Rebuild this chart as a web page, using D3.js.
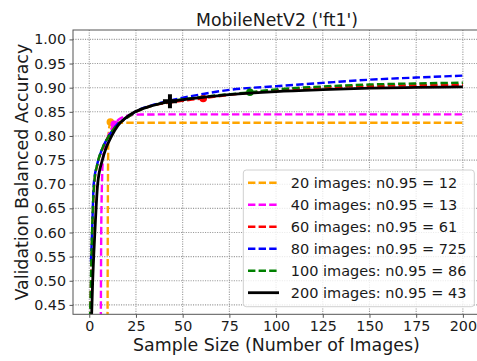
<!DOCTYPE html>
<html>
<head>
<meta charset="utf-8">
<script src="https://cdn.jsdelivr.net/npm/d3@7"></script>
<style>
  html, body { margin: 0; padding: 0; background: #fff; }
  svg { display: block; font-family: "DejaVu Sans", sans-serif; }
</style>
</head>
<body>
<svg id="chart" width="477" height="361"></svg>
<script>
// Learning curves: validation balanced accuracy vs. sample size, one fitted curve per training-set size.
const x20 = [9.8, 10.0, 10.3, 10.8, 11.5, 13, 20, 200];
const y20 = [0.42, 0.70, 0.80, 0.82, 0.826, 0.8273, 0.8273, 0.8273];

const x40 = [6.2, 6.4, 6.8, 7.2, 8.0, 10.2, 13.4, 17, 22, 28, 40, 200];
const y40 = [0.42, 0.60, 0.70, 0.747, 0.771, 0.80, 0.824, 0.837, 0.843, 0.8445, 0.8446, 0.8446];

const x60 = [0.55, 1.0, 1.6, 2.7, 4.3, 6.7, 10.5, 15, 20, 25, 33, 43, 61, 75, 100, 125, 150, 175, 200];
const y60 = [0.42, 0.50, 0.60, 0.70, 0.74, 0.77, 0.80, 0.823, 0.837, 0.85, 0.862, 0.869, 0.878, 0.885, 0.8945, 0.9005, 0.9035, 0.905, 0.906];

const x80 = [0.9, 1.5, 2.4, 4.2, 6.6, 10.5, 15, 20, 25, 33, 43, 61, 75, 100, 125, 150, 175, 200];
const y80 = [0.54, 0.60, 0.70, 0.74, 0.77, 0.80, 0.824, 0.838, 0.851, 0.863, 0.873, 0.887, 0.8955, 0.903, 0.910, 0.9165, 0.921, 0.925];

const x100 = [0.4, 0.9, 1.5, 2.6, 4.2, 6.6, 10.5, 15, 20, 25, 33, 43, 61, 86, 100, 125, 150, 175, 200];
const y100 = [0.42, 0.50, 0.60, 0.70, 0.74, 0.77, 0.80, 0.823, 0.837, 0.85, 0.862, 0.8715, 0.881, 0.8905, 0.8965, 0.9025, 0.9065, 0.9088, 0.9103];

const x200 = [1.2, 1.8, 3.0, 4.5, 7.0, 9.0, 12, 15.5, 19, 24.5, 33, 43, 51, 61, 75, 100, 125, 150, 175, 200];
const y200 = [0.42, 0.495, 0.60, 0.70, 0.75, 0.775, 0.80, 0.8225, 0.836, 0.85, 0.862, 0.871, 0.8755, 0.880, 0.8855, 0.892, 0.896, 0.899, 0.9005, 0.9015];

// n0.95 markers (sample size where each curve reaches 95% level)
const n95X = [11.3, 13.4, 61, null, 86, 43.2];
const n95Y = [0.829, 0.824, 0.8777, null, 0.8905, 0.872];

const legendLabels = [
  "20 images: n0.95 = 12",
  "40 images: n0.95 = 13",
  "60 images: n0.95 = 61",
  "80 images: n0.95 = 725",
  "100 images: n0.95 = 86",
  "200 images: n0.95 = 43"
];

const xTicks = [0, 25, 50, 75, 100, 125, 150, 175, 200];
const yTicks = [0.45, 0.50, 0.55, 0.60, 0.65, 0.70, 0.75, 0.80, 0.85, 0.90, 0.95, 1.00];

const titleText = "MobileNetV2 ('ft1')";
const xLabelText = "Sample Size (Number of Images)";
const yLabelText = "Validation Balanced Accuracy";

// styling
const colors = ["#ffa500", "#ff00ff", "#ff0000", "#0000ff", "#008000", "#000000"];
const dashed = [true, true, true, true, true, false];
const markerShape = ["circle", "circle", "circle", null, "circle", "plus"];

const seriesX = [x20, x40, x60, x80, x100, x200];
const seriesY = [y20, y40, y60, y80, y100, y200];

const svg = d3.select("#chart");
const plot = { left: 73, top: 30, right: 481, bottom: 314.3 };

const x = d3.scaleLinear().domain([-8.7, 209.7]).range([plot.left, plot.right]);
const y = d3.scaleLinear().domain([0.4305, 1.0195]).range([plot.bottom, plot.top]);

svg.append("rect").attr("width", 477).attr("height", 361).attr("fill", "#fff");

svg.append("defs").append("clipPath").attr("id", "clip")
  .append("rect")
  .attr("x", plot.left).attr("y", plot.top)
  .attr("width", plot.right - plot.left).attr("height", plot.bottom - plot.top);

// grid
const grid = svg.append("g").attr("clip-path", "url(#clip)");
grid.selectAll(".gx").data(xTicks).join("line")
  .attr("x1", d => x(d)).attr("x2", d => x(d))
  .attr("y1", plot.top).attr("y2", plot.bottom)
  .attr("stroke", "#999").attr("stroke-width", 1.1).attr("stroke-dasharray", "1.1,1.3");
grid.selectAll(".gy").data(yTicks).join("line")
  .attr("x1", plot.left).attr("x2", plot.right)
  .attr("y1", d => y(d)).attr("y2", d => y(d))
  .attr("stroke", "#999").attr("stroke-width", 1.1).attr("stroke-dasharray", "1.1,1.3");

// curves
const lineWidth = i => (i === 5 ? 2.8 : 2.4);
const line = d3.line().x(d => x(d[0])).y(d => y(d[1])).curve(d3.curveMonotoneX);
const curves = svg.append("g").attr("clip-path", "url(#clip)");
seriesX.forEach((xs, i) => {
  const pts = xs.map((v, j) => [v, seriesY[i][j]]);
  curves.append("path")
    .attr("d", line(pts))
    .attr("fill", "none")
    .attr("stroke", colors[i])
    .attr("stroke-width", lineWidth(i))
    .attr("stroke-dasharray", dashed[i] ? "7.4,3.2" : null);
  if (markerShape[i] === "circle") {
    curves.append("circle")
      .attr("cx", x(n95X[i])).attr("cy", y(n95Y[i])).attr("r", 3.8)
      .attr("fill", colors[i]);
  } else if (markerShape[i] === "plus") {
    const cx = x(n95X[i]), cy = y(n95Y[i]);
    curves.append("path")
      .attr("d", `M${cx - 7},${cy}H${cx + 7}M${cx},${cy - 7}V${cy + 7}`)
      .attr("stroke", colors[i]).attr("stroke-width", 4).attr("fill", "none");
  }
});

// axes frame
svg.append("rect")
  .attr("x", plot.left).attr("y", plot.top)
  .attr("width", plot.right - plot.left).attr("height", plot.bottom - plot.top)
  .attr("fill", "none").attr("stroke", "#555").attr("stroke-width", 1);

const xAxis = d3.axisBottom(x).tickValues(xTicks).tickFormat(d3.format("d")).tickSize(3.5).tickPadding(3.5);
const yAxis = d3.axisLeft(y).tickValues(yTicks).tickFormat(d3.format(".2f")).tickSize(3.5).tickPadding(3.5);

const gx = svg.append("g").attr("transform", `translate(0,${plot.bottom})`).call(xAxis);
const gy = svg.append("g").attr("transform", `translate(${plot.left},0)`).call(yAxis);
[gx, gy].forEach(g => {
  g.select(".domain").remove();
  g.selectAll(".tick line").attr("stroke", "#555");
  g.selectAll(".tick text").attr("fill", "#1a1a1a")
    .style("font-family", "DejaVu Sans").style("font-size", "14.3px");
});

// title and labels
svg.append("text").attr("x", (plot.left + plot.right) / 2).attr("y", 25.5)
  .attr("text-anchor", "middle").attr("font-size", 17.3).attr("fill", "#1a1a1a").text(titleText);
svg.append("text").attr("x", 276.4).attr("y", 351)
  .attr("text-anchor", "middle").attr("font-size", 17.4).attr("fill", "#1a1a1a").text(xLabelText);
svg.append("text").attr("transform", `translate(28,${(plot.top + plot.bottom) / 2}) rotate(-90)`)
  .attr("text-anchor", "middle").attr("font-size", 17.4).attr("fill", "#1a1a1a").text(yLabelText);

// legend
const legend = svg.append("g");
legend.append("rect")
  .attr("x", 243.3).attr("y", 170).attr("width", 231).attr("height", 136.7)
  .attr("rx", 3).attr("fill", "#fff").attr("fill-opacity", 0.8)
  .attr("stroke", "#d0d0d0").attr("stroke-width", 1);
legendLabels.forEach((lab, i) => {
  const cy = 182.7 + i * 22;
  legend.append("line")
    .attr("x1", 248).attr("x2", 279).attr("y1", cy).attr("y2", cy)
    .attr("stroke", colors[i]).attr("stroke-width", lineWidth(i))
    .attr("stroke-dasharray", dashed[i] ? "7.4,3.2" : null);
  legend.append("text").attr("x", 290.7).attr("y", cy + 5.2)
    .attr("font-size", 14.5).attr("fill", "#1a1a1a").text(lab);
});
</script>
</body>
</html>
